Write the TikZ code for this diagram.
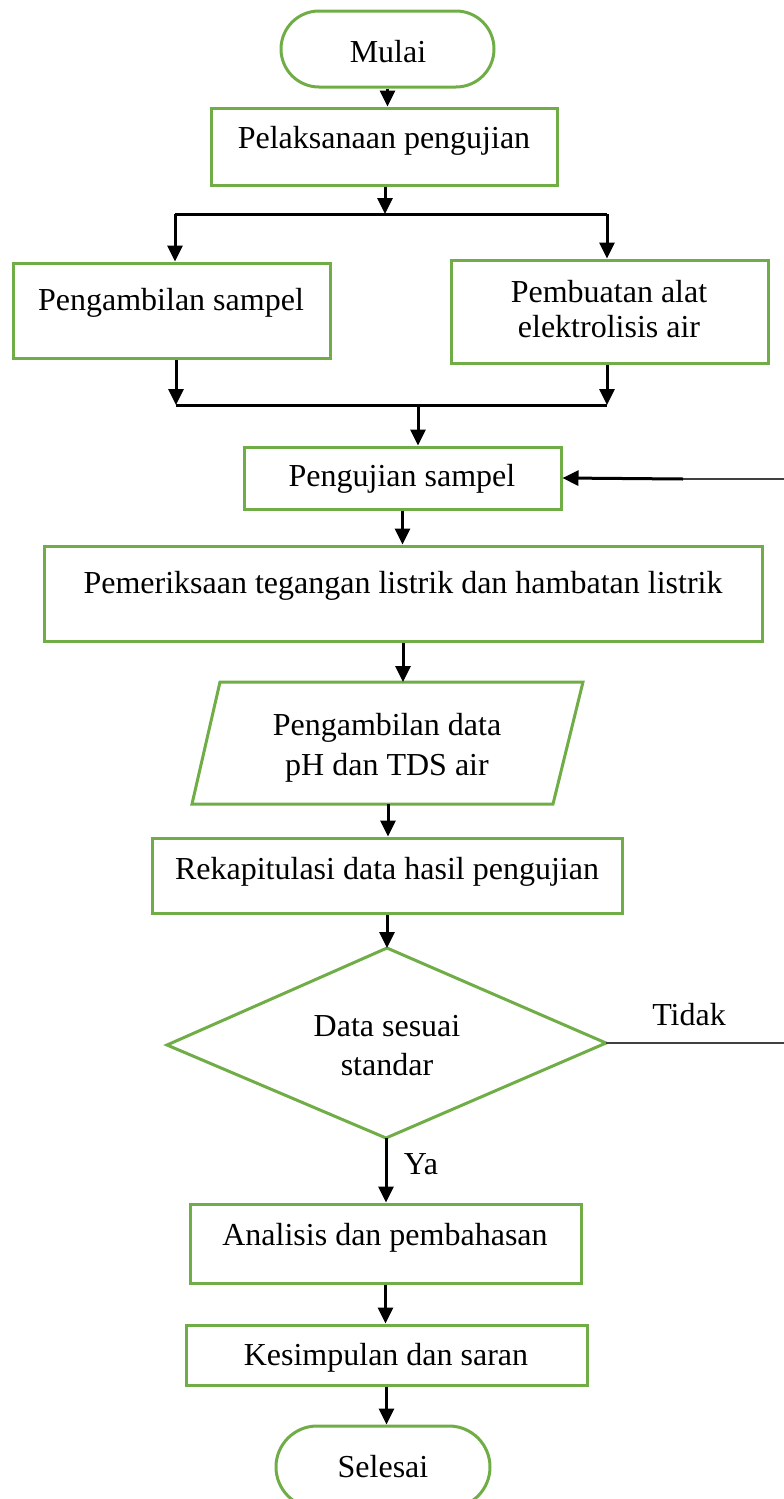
\documentclass[tikz,border=0pt]{standalone}
\usepackage{fontspec}
\setmainfont{Liberation Serif}
\usetikzlibrary{arrows.meta,calc}
\definecolor{grn}{HTML}{70AD47}
\definecolor{thinln}{HTML}{404040}
\begin{document}
\begin{tikzpicture}[x=1pt,y=-1pt,
  box/.style={draw=grn, line width=3pt, inner sep=0pt, rectangle},
  txt/.style={anchor=base, inner sep=0pt, font=\fontsize{32}{38}\selectfont},
  ln/.style={line width=3pt, black},
  conn/.style={line width=3pt, black, -{Triangle[length=16pt,width=15pt]}},
  thinline/.style={line width=1.4pt, thinln}]
\useasboundingbox (0,0) rectangle (784,1499);

% boxes
\node[box, minimum width=213, minimum height=76, rounded corners=38] (mulai) at (387.5,49) {};
\node[box, minimum width=346, minimum height=77] (pel) at (384,146.5) {};
\node[box, minimum width=317, minimum height=95] (amb) at (171.5,310.5) {};
\node[box, minimum width=317, minimum height=103] (bua) at (609.5,311.5) {};
\node[box, minimum width=317, minimum height=62] (uji) at (402.5,478) {};
\node[box, minimum width=718, minimum height=95] (pem) at (403,593.5) {};
\node[box, minimum width=470, minimum height=75] (rek) at (387,875.5) {};
\node[box, minimum width=391, minimum height=79] (ana) at (385.5,1243.5) {};
\node[box, minimum width=401, minimum height=60] (kes) at (386.5,1355) {};
\node[box, minimum width=214, minimum height=82, rounded corners=41] (sel) at (383,1467) {};

% parallelogram
\coordinate (ptl) at (220,682);
\coordinate (ptr) at (583,682);
\coordinate (pbr) at (553,804);
\coordinate (pbl) at (192,804);
\draw[draw=grn, line width=3pt] (ptl) -- (ptr) -- (pbr) -- (pbl) -- cycle;

% diamond
\coordinate (dtop) at (387,948);
\coordinate (dleft) at (167,1045);
\coordinate (dright) at (606,1043);
\coordinate (dbot) at (386,1138);
\draw[draw=grn, line width=3pt] (dtop) -- (dright) -- (dbot) -- (dleft) -- cycle;

% texts
\node[txt] (t1) at (388,62) {Mulai};
\node[txt] (t2) at (384,148) {Pelaksanaan pengujian};
\node[txt] (t3) at (171,310) {Pengambilan sampel};
\node[txt] (t4) at (609,302) {Pembuatan alat};
\node[txt] (t5) at (609,337) {elektrolisis air};
\node[txt] (t6) at (402,486) {Pengujian sampel};
\node[txt] (t7) at (403,593) {Pemeriksaan tegangan listrik dan hambatan listrik};
\node[txt] (t8) at (387,735) {Pengambilan data};
\node[txt] (t9) at (387,775) {pH dan TDS air};
\node[txt] (t10) at (387,879) {Rekapitulasi data hasil pengujian};
\node[txt] (t11) at (387,1036) {Data sesuai};
\node[txt] (t12) at (387,1075) {standar};
\node[txt] (t13) at (689,1025) {Tidak};
\node[txt] (t14) at (421,1174) {Ya};
\node[txt] (t15) at (385,1245) {Analisis dan pembahasan};
\node[txt] (t16) at (386,1365) {Kesimpulan dan saran};
\node[txt] (t17) at (383,1477) {Selesai};

% connectors
\draw[conn] (mulai.south) -- (mulai.south |- pel.north);

\coordinate (s1) at (385,214);
\coordinate (sl) at (175,214);
\coordinate (sr) at (607,214);
\draw[conn] (pel.south -| s1) -- (s1);
\draw[ln] (sl) -- (sr);
\draw[conn] (sl) -- (sl |- amb.north);
\draw[conn] (sr) -- (sr |- bua.north);

\coordinate (ml) at (176,405);
\coordinate (mr) at (607,405);
\coordinate (mm) at (418,405);
\draw[conn] (amb.south -| ml) -- (ml);
\draw[conn] (bua.south -| mr) -- (mr);
\draw[ln] (ml) -- (mr);
\draw[conn] (mm) -- (mm |- uji.north);

\draw[conn] (uji.south) -- (uji.south |- pem.north);
\draw[conn] (pem.south) -- (pem.south |- ptl);
\coordinate (db) at (388,804);
\draw[conn] (db) -- (db |- rek.north);
\draw[conn] (rek.south) -- (dtop);
\draw[conn] (dbot) -- (dbot |- ana.north);
\draw[conn] (ana.south) -- (ana.south |- kes.north);
\draw[conn] (kes.south) -- (kes.south |- sel.north);

% feedback (Tidak)
\coordinate (fb1) at (792,1043);
\coordinate (fb2) at (792,479);
\coordinate (fbm) at (683,479);
\draw[thinline] (dright) -- (fb1) -- (fb2) -- (fbm);
\draw[conn] (fbm) -- (uji.east);
\end{tikzpicture}
\end{document}
